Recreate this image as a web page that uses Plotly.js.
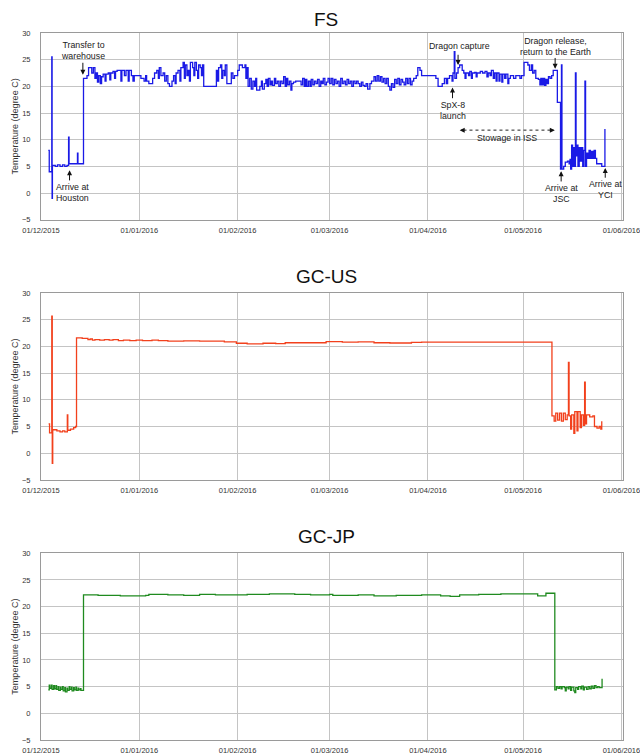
<!DOCTYPE html>
<html>
<head>
<meta charset="utf-8">
<script src="https://cdn.plot.ly/plotly-3.0.1.min.js"></script>
<style>html,body{margin:0;padding:0;background:#fff;}#chart{width:640px;height:754px;}</style>
</head>
<body>
<div id="chart"></div>
<script>
// ---------- DATA (day = days since 2015-12-01, temperature in degree C) ----------
const fsDay = [2.3,2.6,3.4,3.5,3.6,4.5,5.2,6.0,6.8,7.5,8.2,8.7,8.85,11.5,11.65,13.4,
 14.5,15.0,16.0,16.5,17.0,17.4,17.8,18.2,18.7,19.1,19.6,20.2,20.5,21.2,21.7,22.0,22.7,23.2,23.5,24.0,25.2,25.5,26.3,26.8,27.5,27.8,28.5,29.0,29.4,31.0,31.5,32.5,33.0,33.3,34.0,35.2,35.8,36.5,37.0,37.3,37.8,38.5,39.0,39.5,40.0,40.5,41.3,41.8,42.3,42.6,43.2,43.8,44.1,44.8,45.2,45.5,46.0,46.4,46.8,47.1,47.8,48.2,48.5,49.0,49.4,49.7,50.2,50.6,50.9,51.3,55.3,55.7,56.0,56.6,57.0,57.3,57.8,58.1,58.6,60.0,60.5,61.0,62.0,62.5,63.5,64.3,64.6,64.9,
 65.3,65.8,66.3,66.8,67.3,67.7,68.0,69.0,69.5,69.8,70.4,70.9,71.3,71.7,72.2,72.6,73.0,73.6,74.0,74.5,75.0,75.5,76.0,76.5,77.0,77.4,77.8,78.3,78.8,79.1,79.6,80.3,82.0,82.5,83.0,83.4,83.8,84.3,84.8,85.2,85.7,86.2,86.7,87.2,87.7,88.2,88.6,89.0,89.5,90.0,90.5,91.0,91.5,92.0,92.5,93.0,93.5,94.0,94.5,95.0,95.5,96.0,96.5,97.0,97.5,98.0,98.5,99.0,99.5,100.0,100.5,101.0,101.5,102.0,102.5,103.0,103.7,104.2,105.0,105.5,106.0,106.5,107.0,107.5,108.0,108.5,109.0,109.5,110.0,110.5,111.0,111.5,112.0,112.5,113.0,113.5,114.0,114.5,115.0,115.5,116.0,116.5,117.0,117.5,118.3,118.8,119.5,120.0,
 124.5,125.2,126.5,127.2,127.8,128.2,128.8,129.6,129.9,130.3,130.5,131.0,131.5,132.0,132.8,133.3,133.7,134.0,134.8,135.2,135.7,136.0,136.7,137.2,137.5,138.5,139.2,140.0,140.6,141.0,141.6,142.0,142.6,143.0,143.5,143.8,144.4,144.7,145.3,145.6,146.2,146.6,147.2,147.5,148.0,149.0,149.7,151.0,151.5,152.3,153.5,154.0,154.6,155.0,155.5,156.0,156.8,157.3,157.6,158.0,158.4,158.8,159.2,159.6,160.0,160.5,161.0,161.5,162.8,163.8,164.1,164.25,164.8,165.3,166.0,166.5,166.8,167.0,167.3,167.6,168.0,168.3,168.5,168.7,169.0,169.3,169.7,170.0,170.4,170.8,171.2,171.5,171.7,172.0,172.4,172.8,173.2,173.6,174.0,174.4,174.8,175.2,176.8,177.8];
const fsTemp = [8.0,4.0,25.5,-1.0,5.2,5.0,5.3,5.0,5.3,5.0,5.2,10.5,5.5,7.5,5.5,21.5,
 22.0,23.5,22.5,23.5,21.5,22.5,20.8,22.0,20.5,21.8,22.3,21.0,22.3,22.5,21.2,22.5,22.8,21.5,22.8,23.0,21.0,23.0,22.0,23.0,21.0,23.0,22.0,21.0,22.0,22.0,21.5,21.0,22.0,21.0,20.5,21.5,22.5,23.0,21.5,23.5,22.0,22.5,21.0,22.0,20.5,20.0,21.0,22.0,20.5,22.5,23.0,21.0,23.5,24.5,21.5,24.0,22.0,23.0,21.0,24.5,23.5,22.0,24.5,23.0,21.5,24.0,23.5,22.0,24.0,20.0,23.0,21.0,23.5,24.0,21.5,23.0,22.0,24.0,20.5,22.5,21.5,22.0,23.0,24.0,23.5,24.0,21.5,23.5,
 20.0,21.5,19.5,21.0,20.0,21.5,19.3,20.0,21.0,19.5,20.5,21.3,20.0,21.5,20.3,21.0,20.2,21.5,20.5,21.0,20.0,21.0,20.5,21.8,20.0,21.5,20.3,21.0,19.3,20.5,20.8,21.0,20.3,21.5,20.0,21.3,20.0,21.0,20.0,21.3,20.3,21.0,20.5,21.3,20.0,21.0,20.5,21.5,20.3,20.8,21.5,20.5,21.5,20.3,21.3,20.5,21.0,20.0,21.5,20.5,21.0,20.3,21.3,20.5,21.0,20.0,21.0,20.5,21.0,20.5,20.0,20.8,20.2,20.0,20.5,19.5,20.5,21.0,21.8,21.0,22.0,21.0,21.8,20.8,21.5,20.5,21.5,20.0,19.3,20.5,19.8,21.3,20.5,21.5,20.3,21.3,20.8,20.3,21.5,20.5,21.5,20.3,21.0,21.5,22.0,23.5,23.0,22.0,
 21.5,20.0,20.5,21.5,20.5,21.5,22.0,21.0,22.5,26.5,21.5,22.5,23.5,24.0,23.0,22.5,21.5,22.5,22.0,22.8,21.5,22.5,22.6,21.8,22.5,22.8,22.5,22.8,21.8,22.5,22.0,23.0,21.5,22.5,21.0,22.5,21.0,22.3,20.8,22.3,21.5,22.3,20.5,21.5,22.0,21.5,22.0,21.5,22.0,24.5,24.0,23.0,24.0,22.5,23.0,21.5,21.3,20.3,21.5,20.3,21.5,20.2,21.3,20.5,21.8,21.5,22.0,23.0,17.0,4.5,24.0,4.5,5.0,5.8,6.0,5.5,6.3,4.5,9.0,5.0,8.5,5.0,22.5,7.0,9.0,5.0,8.5,6.0,8.5,5.0,8.0,21.0,5.0,7.5,6.5,8.0,6.5,7.8,6.5,8.0,6.5,5.5,5.0,12.0];

const usDay = [2.4,2.7,3.4,3.55,3.7,5.0,6.0,6.8,7.5,8.3,8.45,9.3,10.3,10.9,11.2,13.0,14.8,15.5,16.2,17.0,18.5,20.0,21.5,22.7,24.4,26.0,28.0,30.0,32.0,35.0,37.0,40.0,45.0,50.0,57.8,61.6,65.0,70.0,74.0,77.0,83.0,89.9,95.0,100.0,105.0,110.0,116.8,120.0,
 161.1,161.8,162.3,162.9,163.5,164.1,164.7,165.3,165.9,166.3,166.5,167.0,167.3,168.0,168.3,169.0,169.3,170.0,170.4,171.0,171.4,171.6,172.0,173.0,174.0,174.5,175.3,176.0,176.5,176.8];
const usTemp = [5.5,3.8,25.7,-1.9,4.4,4.2,4.0,4.2,4.0,7.2,4.3,4.5,4.8,5.0,21.6,21.5,21.3,21.4,21.2,21.3,21.2,21.3,21.2,21.3,21.1,21.2,21.1,21.2,21.1,21.2,21.1,21.0,21.05,21.0,20.85,20.6,20.5,20.6,20.55,20.7,20.7,20.9,20.8,20.85,20.7,20.65,20.75,20.8,
 7.0,6.0,7.5,6.2,7.5,6.0,7.5,6.3,7.2,17.0,7.0,4.5,7.2,3.7,7.8,4.2,7.8,4.8,7.2,5.2,13.3,5.5,7.2,6.8,7.0,5.0,4.7,5.0,4.5,6.0];

const jpDay = [2.3,2.6,2.8,3.3,3.5,4.0,4.2,4.7,4.9,5.4,5.6,6.1,6.3,6.8,7.0,7.5,7.7,8.2,8.4,8.9,9.1,9.6,9.8,10.3,10.5,11.0,11.2,11.7,11.9,12.4,12.6,13.4,
 18.0,25.0,33.0,34.0,40.0,45.0,50.0,55.0,65.0,72.0,80.0,85.0,91.0,92.0,100.0,105.0,112.0,120.0,126.0,129.0,132.0,138.0,145.0,156.6,159.2,162.0,
 162.5,163.0,163.5,164.0,164.3,165.0,165.3,165.6,166.2,166.5,167.0,167.3,168.0,168.3,168.6,169.2,169.5,170.2,170.5,171.0,171.3,172.0,172.5,173.0,173.5,174.0,174.5,175.0,175.5,176.0,176.9];
const jpTemp = [4.4,5.3,4.7,5.3,4.5,5.2,4.6,5.2,4.5,5.0,4.3,4.9,4.5,5.0,4.2,4.8,4.0,4.7,4.3,5.0,4.5,4.9,4.2,4.8,4.4,4.9,4.3,4.7,4.4,4.6,4.3,22.2,
 22.1,22.0,22.1,22.3,22.2,22.1,22.3,22.2,22.3,22.4,22.3,22.2,22.3,22.1,22.2,22.0,22.1,22.2,22.0,21.9,22.2,22.3,22.4,22.0,22.5,4.4,
 5.0,4.7,5.0,4.6,5.0,4.8,4.2,4.9,4.6,5.0,4.3,4.9,4.2,3.9,4.8,4.5,5.0,4.6,5.1,4.4,4.9,4.5,5.0,4.6,5.1,4.7,5.2,4.8,5.0,4.8,6.5];

const panelTitles = ["FS", "GC-US", "GC-JP"];
const lineColors = ["#1a1ae6", "#f2401c", "#1f8a1f"];
const yTitle = "Temperature (degree C)";

// FS event labels (day, temperature position)
const noteText = ["Transfer to<br>warehouse", "Arrive at<br>Houston", "SpX-8<br>launch", "Dragon capture",
                  "Dragon release,<br>return to the Earth", "Stowage in ISS", "Arrive at<br>JSC", "Arrive at<br>YCI"];
const noteDay  = [13.2, 9.9, 129.75, 131.8, 162.3, 146.8, 164.1, 177.9];
const noteTemp = [26.8, 0.2, 15.4, 27.5, 27.4, 10.3, -0.1, 0.7];
// event arrows (day, tip temperature, tail temperature)
const arrowDay  = [13.2, 9.0, 129.75, 131.5, 162.1, 164.0, 177.9];
const arrowTip  = [22.2, 4.3, 19.8, 24.0, 23.3, 4.1, 4.7];
const arrowTail = [24.7, 2.1, 17.5, 26.2, 25.6, 1.9, 2.6];
// stowage span
const stowDay = [132.0, 162.0];
const stowTemp = 11.8;

// ---------- BUILD ----------
const T0 = Date.UTC(2015, 11, 1);
const DAY = 86400000;
const toMs = d => T0 + d * DAY;
const FONT = "Liberation Sans, Arial, sans-serif";

const days = [fsDay, usDay, jpDay];
const temps = [fsTemp, usTemp, jpTemp];
const traces = days.map((d, i) => ({
  x: d.map(toMs), y: temps[i], type: "scatter", mode: "lines",
  line: {shape: "hv", color: lineColors[i], width: 1.3},
  xaxis: i === 0 ? "x" : "x" + (i + 1), yaxis: i === 0 ? "y" : "y" + (i + 1),
  showlegend: false, hoverinfo: "skip"
}));

const plotTop = 33.3, plotBot = 740, H = 754;
const ph = plotBot - plotTop;
const panelPx = [[33.3, 220], [293.3, 480], [553.3, 740]];
const domains = panelPx.map(p => [(plotBot - p[1]) / ph, (plotBot - p[0]) / ph]);

const xRange = [T0, Date.UTC(2016, 5, 1, 12)];
const tickv = [], tickt = [];
for (let m = 0; m <= 6; m++) {
  const dt = new Date(Date.UTC(2015, 11 + m, 1));
  tickv.push(dt.getTime());
  const dd = String(dt.getUTCDate()).padStart(2, "0"), mm = String(dt.getUTCMonth() + 1).padStart(2, "0");
  tickt.push(dd + "/" + mm + "/" + dt.getUTCFullYear());
}

const layout = {
  width: 640, height: 754,
  margin: {l: 40.7, r: 16.7, t: plotTop, b: H - plotBot, pad: 0},
  paper_bgcolor: "#ffffff", plot_bgcolor: "#ffffff",
  font: {family: FONT, color: "#222"},
  showlegend: false,
  annotations: [],
  shapes: []
};

for (let i = 0; i < 3; i++) {
  const xs = i === 0 ? "xaxis" : "xaxis" + (i + 1);
  const ys = i === 0 ? "yaxis" : "yaxis" + (i + 1);
  layout[xs] = {
    type: "date", range: xRange, tickmode: "array", tickvals: tickv, ticktext: tickt,
    showgrid: true, gridcolor: "#c4c4c4", gridwidth: 1,
    showline: true, linecolor: "#9a9a9a", linewidth: 1, mirror: true,
    ticks: "", ticklabelstandoff: 3, ticklabeloverflow: "allow",
    tickfont: {size: 7.5, color: "#333", family: FONT},
    zeroline: false, anchor: i === 0 ? "y" : "y" + (i + 1), fixedrange: true
  };
  layout[ys] = {
    domain: domains[i], range: [-5, 30], dtick: 5, tick0: 0,
    showgrid: true, gridcolor: "#c4c4c4", gridwidth: 1,
    showline: true, linecolor: "#9a9a9a", linewidth: 1, mirror: true,
    ticks: "", ticklabelstandoff: 8,
    tickfont: {size: 7.5, color: "#333", family: FONT},
    zeroline: false, anchor: i === 0 ? "x" : "x" + (i + 1),
    title: {text: yTitle, font: {size: 9, color: "#333", family: FONT}, standoff: 1},
    fixedrange: true
  };
  const titleY = [20, 277, 537][i];
  layout.annotations.push({
    text: panelTitles[i], xref: "paper", yref: "paper",
    x: (326 - 40.7) / 582.6, y: (plotBot - titleY) / ph,
    xanchor: "center", yanchor: "middle", showarrow: false,
    font: {size: 19, color: "#111", family: FONT}
  });
}

// FS event text
noteText.forEach((t, k) => {
  layout.annotations.push({
    text: t, x: toMs(noteDay[k]), y: noteTemp[k], xref: "x", yref: "y",
    showarrow: false, xanchor: "center", yanchor: "middle",
    font: {size: 8.8, color: "#222", family: FONT}
  });
});
// FS event arrows
arrowDay.forEach((d, k) => {
  layout.annotations.push({
    text: "", x: toMs(d), y: arrowTip[k], ax: toMs(d), ay: arrowTail[k],
    xref: "x", yref: "y", axref: "x", ayref: "y",
    showarrow: true, arrowhead: 2, arrowsize: 1, arrowwidth: 1, arrowcolor: "#111", standoff: 0
  });
});
// stowage dashed double arrow
layout.shapes.push({
  type: "line", xref: "x", yref: "y", x0: toMs(stowDay[0] + 1.2), x1: toMs(stowDay[1] - 1.2),
  y0: stowTemp, y1: stowTemp, line: {color: "#222", width: 1, dash: "dot"}
});
[0, 1].forEach(k => {
  layout.annotations.push({
    text: "", x: toMs(stowDay[k]), y: stowTemp, ax: toMs(stowDay[k] + (k === 0 ? 1.6 : -1.6)), ay: stowTemp,
    xref: "x", yref: "y", axref: "x", ayref: "y",
    showarrow: true, arrowhead: 2, arrowsize: 1, arrowwidth: 1, arrowcolor: "#111", standoff: 0
  });
});

Plotly.newPlot("chart", traces, layout, {staticPlot: true, displayModeBar: false});
</script>
</body>
</html>
